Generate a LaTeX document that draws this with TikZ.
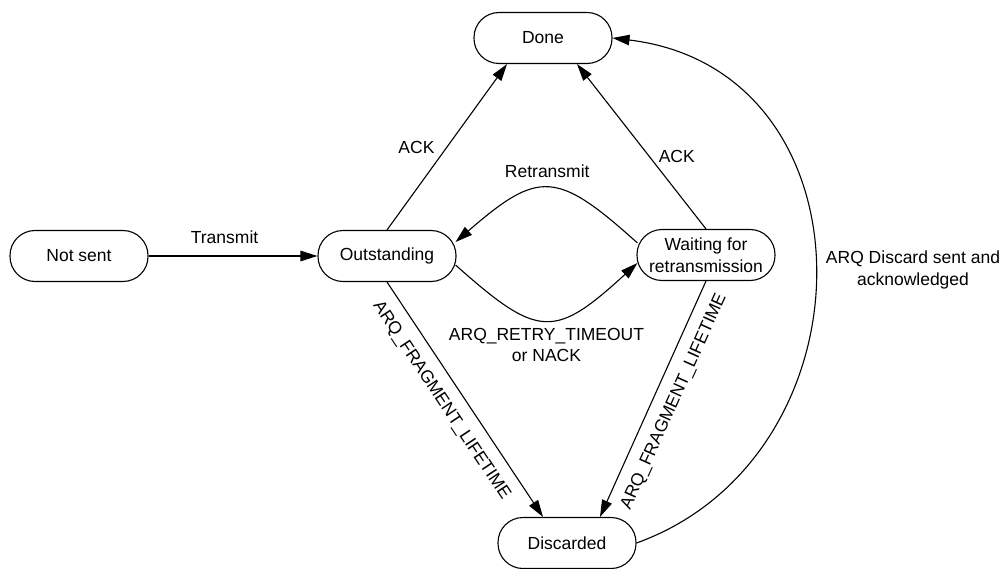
\documentclass[tikz,border=0pt]{standalone}
\usepackage{fontspec}
\setmainfont{Liberation Sans}
\usetikzlibrary{arrows.meta,calc}
\begin{document}
\begin{tikzpicture}[x=1pt,y=-1pt,
  state/.style={draw, line width=1.1pt, rectangle, rounded corners=25pt,
    minimum width=138pt, minimum height=51pt, inner sep=2pt, align=center,
    font=\fontsize{17.5}{21.5}\selectfont},
  lbl/.style={inner sep=0pt, align=center, font=\fontsize{17.5}{21.5}\selectfont},
  arr/.style={line width=1.1pt, -{Triangle[length=17pt,width=10.5pt]}}]
\useasboundingbox (0,0) rectangle (1008,569);

\node[state] (notsent) at (79,256) {Not sent};
\node[state] (out) at (387,256) {Outstanding};
\node[state] (wait) at (706,255) {Waiting for\\retransmission};
\node[state] (done) at (543,38) {Done};
\node[state] (disc) at (567,543) {Discarded};

\draw[arr] (notsent) -- node[lbl, above=12pt, pos=0.45] {Transmit} (out);
\draw[arr] (out.north) -- node[lbl, left=12pt, pos=0.5] {ACK} ($(done.south)+(-36,0)$);
\draw[arr] (wait.north) -- node[lbl, right=9pt, pos=0.44] {ACK} ($(done.south)+(34,0)$);
\draw[arr] ($(wait.west)+(1,-12)$) .. controls +(-81,-73) and +(83,-72) ..
  node[lbl, above=10pt, pos=0.5] {Retransmit} ($(out.east)+(-1,-14)$);
\draw[arr] ($(out.east)+(-1,9)$) .. controls +(83,74) and +(-83,76) ..
  node[lbl, below=7pt, pos=0.5] {ARQ\_RETRY\_TIMEOUT\\or NACK} ($(wait.west)+(1,8)$);
\draw[arr] (out.south) -- node[lbl, sloped, below=12pt, pos=0.457] {ARQ\_FRAGMENT\_LIFETIME} ($(disc.north)+(-24,0)$);
\draw[arr] (wait.south) -- node[lbl, sloped, below=12pt, pos=0.476] {ARQ\_FRAGMENT\_LIFETIME} ($(disc.north)+(33,0)$);
\draw[arr] (disc.east) .. controls +(241,-87) and +(266,32) .. (done.east);
\node[lbl] (discl) at (913,270) {ARQ Discard sent and\\acknowledged};
\end{tikzpicture}
\end{document}
